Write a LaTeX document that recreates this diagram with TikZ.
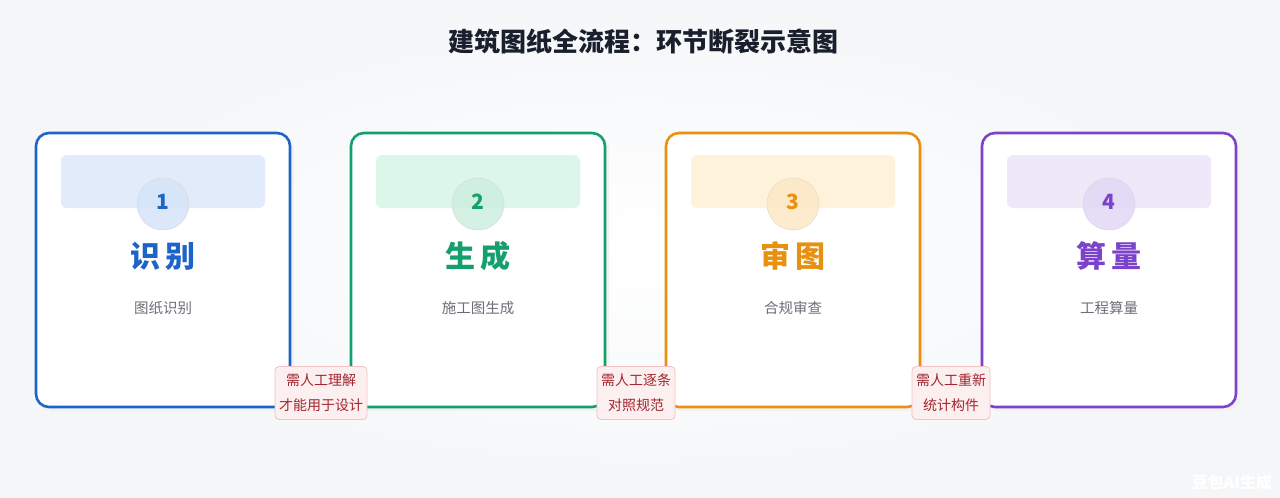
\documentclass[tikz,border=0pt]{standalone}
\usepackage{fontspec}
\setmainfont{Noto Sans CJK SC}
\definecolor{bgc}{HTML}{F4F6F8}
\definecolor{titlec}{HTML}{1A1F2E}
\definecolor{subc}{HTML}{6B6F78}
\definecolor{bluec}{HTML}{1E64C8}
\definecolor{greenc}{HTML}{13A06A}
\definecolor{orangec}{HTML}{E8900F}
\definecolor{purplec}{HTML}{7A43C9}
\definecolor{blueband}{HTML}{E2EBFA}
\definecolor{greenband}{HTML}{DDF6EA}
\definecolor{orangeband}{HTML}{FEF2DB}
\definecolor{purpleband}{HTML}{EEE8F9}
\definecolor{bluecirc}{HTML}{D6E4F8}
\definecolor{greencirc}{HTML}{CDEFDF}
\definecolor{orangecirc}{HTML}{FCE8C4}
\definecolor{purplecirc}{HTML}{E2D8F6}
\definecolor{warnfill}{HTML}{FCEFEF}
\definecolor{warnline}{HTML}{F0C4C6}
\definecolor{warntext}{HTML}{A3262E}
\tikzset{
  card/.style={draw=#1, line width=2.6pt, fill=white, rounded corners=13pt,
    minimum width=254pt, minimum height=274pt, inner sep=0pt},
  cardshadow/.style={fill=black!5, rounded corners=13pt, minimum width=256pt,
    minimum height=276pt, inner sep=0pt},
  band/.style={fill=#1, rounded corners=6pt, minimum width=204pt, minimum height=53pt, inner sep=0pt},
  circ/.style={circle, fill=#1, fill opacity=0.85, text opacity=1, draw=#1!70!gray!60, line width=0.6pt,
    minimum size=52pt, inner sep=0pt},
  numtxt/.style={text=#1, font=\fontsize{21}{24}\selectfont\bfseries},
  headtxt/.style={text=#1, font=\fontsize{30}{36}\selectfont\bfseries},
  subtxt/.style={text=subc, font=\fontsize{14.5}{18}\selectfont},
  warn/.style={draw=warnline, fill=warnfill, line width=0.8pt, rounded corners=4pt,
    text=warntext, font=\fontsize{14}{25}\selectfont, align=center, inner xsep=4pt, inner ysep=7.5pt}
}
\begin{document}
\begin{tikzpicture}[x=1pt,y=-1pt]
\useasboundingbox (0,0) rectangle (1280,498);
\shade[inner color=white, outer color=bgc] (0,0) rectangle (1280,498);
\node[text=titlec, font=\fontsize{26}{30}\selectfont\bfseries] (title) at (643,42) {建筑图纸全流程：环节断裂示意图};
% cards
\foreach \i/\cx/\col/\bandc/\circc/\num/\head/\sub in {
  1/163/bluec/blueband/bluecirc/1/{识\hspace{5pt}别}/{图纸识别},
  2/478/greenc/greenband/greencirc/2/{生\hspace{5pt}成}/{施工图生成},
  3/793/orangec/orangeband/orangecirc/3/{审\hspace{5pt}图}/{合规审查},
  4/1109/purplec/purpleband/purplecirc/4/{算\hspace{5pt}量}/{工程算量}} {
  \node[cardshadow] (sh\i) at (\cx+3,273) {};
  \node[card=\col] (card\i) at (\cx,270) {};
  \node[band=\bandc] (band\i) at (\cx,181.5) {};
  \node[circ=\circc] (circ\i) at (\cx,204) {};
  \node[numtxt=\col] (num\i) at (\cx,202) {\num};
  \node[headtxt=\col] (head\i) at (\cx,256) {\head};
  \node[subtxt] (sub\i) at (\cx,308) {\sub};
}
% break labels
\node[warn] (w1) at (321,393) {需人工理解\\才能用于设计};
\node[warn] (w2) at (636,393) {需人工逐条\\对照规范};
\node[warn] (w3) at (951,393) {需人工重新\\统计构件};
% watermark
\node[text=white, font=\fontsize{16}{20}\selectfont\bfseries] (wm) at (1232,482) {豆包AI生成};
\end{tikzpicture}
\end{document}
